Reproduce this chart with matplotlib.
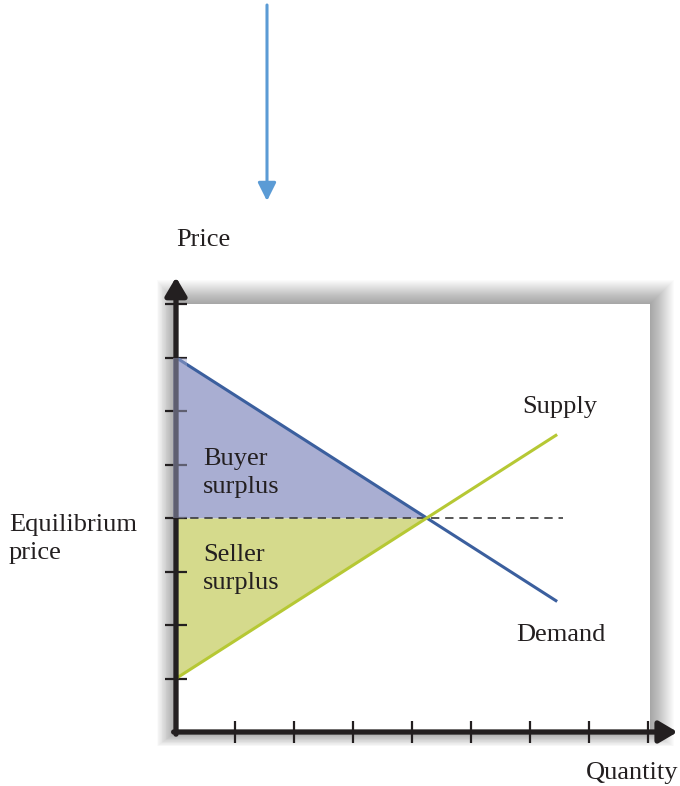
import matplotlib
matplotlib.use("Agg")
import matplotlib.pyplot as plt
from matplotlib.patches import Rectangle
import numpy as np

# ---- data (in tick units) ----
x_ticks = [1, 2, 3, 4, 5, 6, 7, 8]
y_ticks = [1, 2, 3, 4, 5, 6, 7, 8]
demand_q = [0.0, 6.46]
demand_p = [7.0, 2.44]
supply_q = [0.0, 6.46]
supply_p = [1.0, 5.56]
eq_q = 4.25
eq_p = 4.0
dash_end_q = 6.56
box_right = 8.03
box_top = 8.0
axis_end = 8.5

W, H = 680, 786
fig = plt.figure(figsize=(W / 100, H / 100), dpi=100)
fig.patch.set_facecolor("white")

# axes aligned with the white box
x0, y0 = 176, 732          # origin in pixels (from top-left)
px_per_x, px_per_y = 59.0, 53.5
ax = fig.add_axes([x0 / W, (H - y0) / H, box_right * px_per_x / W, box_top * px_per_y / H])
ax.set_xlim(0, box_right)
ax.set_ylim(0, box_top)
ax.set_facecolor("none")
for s in ax.spines.values():
    s.set_visible(False)

# soft shadow
n = 24
for i in range(n, 0, -1):
    dx = i / px_per_x
    dy = i / px_per_y
    ax.add_patch(Rectangle((-dx * 0.8, -dy * 0.6), box_right + dx * 1.8, box_top + dy * 1.6,
                           facecolor="black", edgecolor="none", alpha=0.014,
                           zorder=0, clip_on=False))
ax.add_patch(Rectangle((0, 0), box_right, box_top, facecolor="white",
                       edgecolor="none", zorder=0.5, clip_on=False))

ink = "#231f20"
blue = "#3b5f9e"
green = "#b6c834"
buyer_fill = "#a9aed2"
seller_fill = "#d5da8c"

# fills
q = np.array([0.0, eq_q])
dem_at = np.interp(q, demand_q, demand_p)
sup_at = np.interp(q, supply_q, supply_p)
ax.fill_between(q, dem_at, eq_p, color=buyer_fill, zorder=1, linewidth=0)
ax.fill_between(q, sup_at, eq_p, color=seller_fill, zorder=1, linewidth=0)

# dashed equilibrium line
ax.plot([0, dash_end_q], [eq_p, eq_p], color="#3a3a3a", lw=1.2,
        dashes=(5, 3.5), zorder=2)

# curves
ax.plot(demand_q, demand_p, color=blue, lw=2.2, zorder=3, solid_capstyle="butt")
ax.plot(supply_q, supply_p, color=green, lw=2.2, zorder=3, solid_capstyle="butt")

# ticks
ax.set_xticks(x_ticks)
ax.set_yticks(y_ticks)
ax.set_xticklabels([])
ax.set_yticklabels([])
ax.tick_params(direction="inout", length=16, width=1.6, color=ink)
for t in ax.xaxis.get_major_ticks() + ax.yaxis.get_major_ticks():
    t.tick1line.set_zorder(4)

# axis arrows
arrow_kw = dict(arrowstyle="-|>,head_length=11,head_width=6.5", lw=3.8,
                color=ink, mutation_scale=1, shrinkA=0, shrinkB=0)
ax.annotate("", xy=(0, axis_end), xytext=(0, -0.04), arrowprops=arrow_kw,
            annotation_clip=False, zorder=5)
ax.annotate("", xy=(axis_end, 0), xytext=(-0.04, 0), arrowprops=arrow_kw,
            annotation_clip=False, zorder=5)

# translucent buyer fill over the axis line (as in the reference)
ax.fill_between([-0.05, 0.18], [demand_p[0], demand_p[0]], eq_p, color=buyer_fill,
                alpha=0.45, zorder=6, linewidth=0, clip_on=False)

# blue arrow at top
fig.add_artist(matplotlib.patches.FancyArrowPatch(
    (267 / W, 1 - 5 / H), (267 / W, 1 - 201 / H), transform=fig.transFigure,
    arrowstyle="-|>,head_length=11,head_width=5.5", mutation_scale=1,
    lw=2.2, color="#5b9bd5", shrinkA=0, shrinkB=0))

# texts
font = dict(family="Liberation Serif", size=19, color=ink)

def ftext(x, y, s, **kw):
    fig.text(x / W, 1 - y / H, s, va="center", ha="left", linespacing=1.3, **font, **kw)

ftext(176, 240, "Price")
ftext(9, 539, "Equilibrium\nprice")
ftext(203, 473, "Buyer\nsurplus")
ftext(203, 569, "Seller\nsurplus")
ftext(522, 407, "Supply")
ftext(516, 635, "Demand")
ftext(586, 773, "Quantity")

fig.savefig("out.png", dpi=100, facecolor="white")
